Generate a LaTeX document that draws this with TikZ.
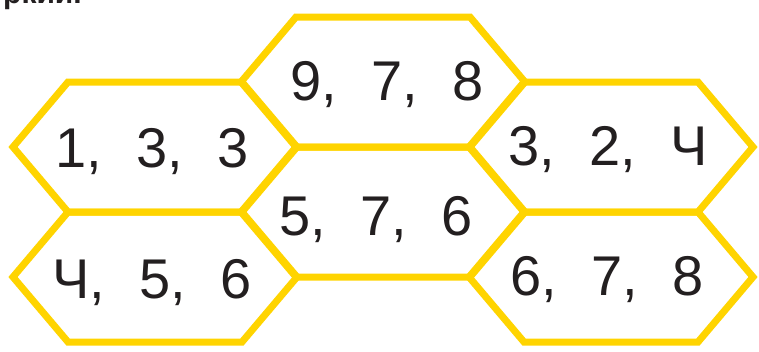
\documentclass[tikz,border=0pt]{standalone}
\usepackage{fontspec}
\setmainfont{Liberation Sans}
\usetikzlibrary{positioning}
\definecolor{honey}{RGB}{255,212,0}
\definecolor{ink}{RGB}{35,31,32}
\tikzset{
	cell/.style={line width=7pt, draw=honey, line join=miter}
}
\tikzset{
	digits/.style={font=\fontsize{56}{60}\selectfont, text=ink, anchor=base, inner sep=0pt}
}
\newcommand{\trio}[3]{#1,\hspace{34pt}#2,\hspace{34pt}#3}

\begin{document}
\begin{tikzpicture}[x=1pt,y=-1pt]
      \useasboundingbox (0,0) rectangle (759,351);
      \clip (0,0) rectangle (759,351);
      \node[anchor=base west, inner sep=0pt, text=ink, font=\bfseries\fontsize{30}{32}\selectfont] (caption) at (3,3) {ркии.};
      % cells
      \foreach \cx/\cy in {155/147, 155/277, 383/82, 383/212, 611/147, 611/277}
        \draw[cell] (\cx-142,\cy) -- ++(55,-65) -- ++(174,0) -- ++(55,65) -- ++(-55,65) -- ++(-174,0) -- cycle;
      % numbers
      \node[digits] (c133) at (152,167) {\trio{1}{3}{3}};
      \node[digits] (c978) at (387,100) {\trio{9}{7}{8}};
      \node[digits] (c324) at (608,165) {\trio{3}{2}{Ч}};
      \node[digits] (c576) at (376,235) {\trio{5}{7}{6}};
      \node[digits] (c456) at (152,298) {\trio{Ч}{5}{6}};
      \node[digits] (c678) at (607,295) {\trio{6}{7}{8}};
\end{tikzpicture}
\end{document}
